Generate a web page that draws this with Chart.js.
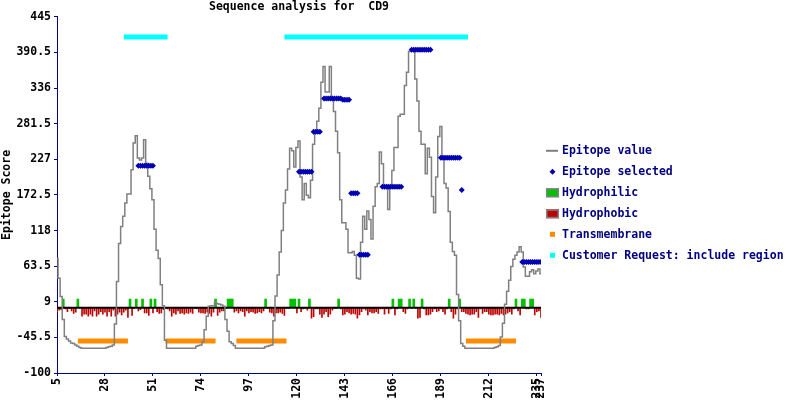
<!DOCTYPE html>
<html>
<head>
<meta charset="utf-8">
<title>Sequence analysis for CD9</title>
<style>
html,body{margin:0;padding:0;background:#ffffff;}
#wrap{width:800px;height:400px;position:relative;}
</style>
<script src="https://cdn.jsdelivr.net/npm/chart.js@4/dist/chart.umd.min.js"></script>
</head>
<body>
<div id="wrap"><canvas id="c" width="800" height="400"></canvas></div>
<script>
// ---------------- DATA ----------------
const chartTitle = 'Sequence analysis for  CD9';
const yAxisTitle = 'Epitope Score';
const firstResidue = 5;

// Epitope value per residue, residues 5..237
const epitopeValue = [
  75, 45, 17, -18, -44, -48, -51, -54, -55, -57,          // 5-14
  -59, -61, -62, -62, -62, -62, -62, -62, -62, -62,       // 15-24
  -62, -62, -62, -62, -61, -60, -59, -57, -25, 40,        // 25-34
  98, 124, 140, 160, 174, 174, 211, 252, 263, 229,        // 35-44
  226, 229, 257, 221, 201, 182, 165, 120, 88, 75,         // 45-54
  35, 3, -50, -62, -62, -62, -62, -62, -62, -62,          // 55-64
  -62, -62, -62, -62, -62, -62, -62, -59, -58, -57,       // 65-74
  -52, -34, -13, 2, 3, 3, 8, 6, 5, 4,                     // 75-84
  2, -18, -36, -52, -55, -58, -62, -62, -62, -62,         // 85-94
  -62, -62, -62, -62, -62, -62, -62, -62, -62, -62,       // 95-104
  -60, -59, -58, -57, -20, 18, 50, 85, 118, 160,          // 105-114
  180, 212, 244, 240, 215, 245, 255, 200, 165, 190,       // 115-124
  172, 168, 195, 250, 270, 285, 305, 345, 369, 330,       // 125-134
  330, 369, 318, 300, 270, 237, 165, 130, 130, 120,       // 135-144
  84, 84, 86, 80, 45, 44, 100, 140, 120, 148,             // 145-154
  135, 105, 155, 185, 190, 238, 220, 187, 187, 150,       // 155-164
  187, 210, 245, 245, 293, 296, 296, 340, 360, 392,       // 165-174
  396, 395, 350, 316, 270, 250, 250, 205, 244, 230,       // 175-184
  170, 145, 200, 262, 277, 229, 190, 183, 147, 100,       // 185-194
  86, 80, 20, -20, -55, -59, -62, -62, -62, -62,          // 195-204
  -62, -62, -62, -62, -62, -62, -62, -62, -62, -62,       // 205-214
  -61, -60, -58, -45, -24, 5, 25, 42, 63, 74,             // 215-224
  80, 85, 93, 85, 62, 48, 48, 55, 58, 52,                 // 225-234
  56, 59, 52                                              // 235-237
];

// Hydropathy per residue, residues 5..237 (positive = hydrophilic, negative = hydrophobic)
const hydropathy = [
  -7, -4, -3, 13, -2, -6, -1, -5, -9, -7,                 // 5-14
  13, -1, -13, -10, -10, -13, -10, -13, -5, -13,          // 15-24
  -10, -6, -10, -7, -13, -6, -13, -4, -13, -10,           // 25-34
  -7, -11, -7, -4, -15, 13, -12, -1, 13, -5,              // 35-44
  -3, 13, -8, -8, -12, 13, -8, 13, -6, -9,                // 45-54
  -8, -3, -1, -2, -5, -13, -8, -10, -5, -9,               // 55-64
  -8, -10, -8, -9, -7, -9, -1, -2, -7, -8,                // 65-74
  -8, -9, -7, -9, -13, -7, 13, -12, -7, -5,               // 75-84
  -5, -1, 13, 13, 13, -7, -5, -8, -5, -6,                 // 85-94
  -13, -5, -8, -6, -7, -9, -8, -6, -8, -5,                // 95-104
  13, -1, -7, -8, -13, -8, -8, -7, -9, -12,               // 105-114
  -1, -1, 13, 13, 13, -8, 13, -6, -2, -1,                 // 115-124
  -4, 13, -16, -14, -2, -2, -10, -15, -10, -6,            // 125-134
  -14, -10, -4, -1, -1, 13, -2, -11, -10, -6,             // 135-144
  -8, -10, -9, -10, -16, -11, -6, -2, -4, -11,            // 145-154
  -6, -8, -8, -6, -9, -2, -2, -10, -2, -9,                // 155-164
  -2, 13, -11, -2, 13, 13, -6, -9, -2, 13,                // 165-174
  -1, 13, -1, -16, -15, 13, -2, -11, -11, -10,            // 175-184
  -6, -2, -6, -5, -2, -6, -10, -2, 13, -6,                // 185-194
  -16, -10, -2, 13, -6, -6, -9, -10, -11, -10,            // 195-204
  -10, -6, -15, -2, -9, -6, -6, -10, -11, -11,            // 205-214
  -10, -10, -11, -9, -11, -10, -8, -6, -10, -2,           // 215-224
  13, -5, -11, 13, 13, -2, -2, 13, 13, -11,               // 225-234
  -6, -5, -15                                             // 235-237
];

// Selected epitope points (residue, score)
const selectedResidue = [
  44, 45, 46, 47, 48, 49, 50, 51,
  121, 122, 123, 124, 125, 126, 127,
  128, 129, 130, 131,
  133, 134, 135, 136, 137, 138, 139, 140, 141,
  142, 143, 144, 145,
  146, 147, 148, 149,
  150, 151, 152, 153, 154,
  161, 162, 163, 164, 165, 166, 167, 168, 169, 170,
  175, 176, 177, 178, 179, 180, 181, 182, 183, 184,
  189, 190, 191, 192, 193, 194, 195, 196, 197, 198,
  199,
  228, 229, 230, 231, 232, 233, 234, 235, 236, 237
];
const selectedScore = [
  217, 217, 217, 217, 217, 217, 217, 217,
  208, 208, 208, 208, 208, 208, 208,
  269, 269, 269, 269,
  320, 320, 320, 320, 320, 320, 320, 320, 320,
  318, 318, 318, 318,
  175, 175, 175, 175,
  81, 81, 81, 81, 81,
  185, 185, 185, 185, 185, 185, 185, 185, 185, 185,
  394.5, 394.5, 394.5, 394.5, 394.5, 394.5, 394.5, 394.5, 394.5, 394.5,
  229.5, 229.5, 229.5, 229.5, 229.5, 229.5, 229.5, 229.5, 229.5, 229.5,
  180,
  70, 70, 70, 70, 70, 70, 70, 70, 70, 70
];

// Transmembrane regions
const tmStart = [15, 57, 91, 201];
const tmEnd   = [39, 81, 115, 225];
const tmLevel = -51;

// Customer request: include regions
const reqStart = [37, 114];
const reqEnd   = [58, 202];
const reqLevel = 414;

// Axis ticks
const xTicks = [5, 28, 51, 74, 97, 120, 143, 166, 189, 212, 235, 237];
const yTicks = [-100, -45.5, 9, 63.5, 118, 172.5, 227, 281.5, 336, 390.5, 445];

const legendLabels = ['Epitope value', 'Epitope selected', 'Hydrophilic', 'Hydrophobic', 'Transmembrane', 'Customer Request: include region'];

// ---------------- STYLE ----------------
const C = {
  curve: '#808080', sel: '#0000b4', green: '#00c000', red: '#c00000',
  orange: '#ff8c00', cyan: '#00ffff', axis: '#00008b', legendText: '#000080'
};
const FONT = "'DejaVu Sans Mono', 'Liberation Mono', monospace";

// ---------------- BUILD ----------------
const residues = epitopeValue.map((_, i) => firstResidue + i);
const curvePts = residues.map((r, i) => ({x: r, y: epitopeValue[i]}));
const philPts = [], phobPts = [];
residues.forEach((r, i) => {
  const v = hydropathy[i];
  if (v > 0) philPts.push({x: r, y: v}); else phobPts.push({x: r, y: v});
});
const selPts = selectedResidue.map((r, i) => ({x: r, y: selectedScore[i]}));
function segs(starts, ends, level) {
  const out = [];
  starts.forEach((s, i) => {
    out.push({x: s, y: level}, {x: ends[i], y: level}, {x: ends[i], y: null});
  });
  return out;
}
const basePts = [{x: residues[0], y: 0}, {x: residues[residues.length - 1], y: 0}];

Chart.defaults.font.family = FONT;
Chart.defaults.font.size = 11.5;
Chart.defaults.font.weight = 'bold';
Chart.defaults.color = '#000';

const legendPlugin = {
  id: 'sideLegend',
  afterDraw(chart) {
    const ctx = chart.ctx, a = chart.chartArea;
    const x0 = a.right + 5, tx = a.right + 21;
    const y0 = a.top + 134, step = 21;
    ctx.save();
    ctx.font = 'bold 11.5px ' + FONT;
    ctx.textBaseline = 'middle';
    ctx.textAlign = 'left';
    legendLabels.forEach((lab, i) => {
      const y = y0 + i * step;
      if (i === 0) {
        ctx.strokeStyle = C.curve; ctx.lineWidth = 2;
        ctx.beginPath(); ctx.moveTo(x0, y); ctx.lineTo(x0 + 12, y); ctx.stroke();
      } else if (i === 1) {
        ctx.fillStyle = C.sel;
        ctx.beginPath(); ctx.moveTo(x0 + 6.5, y - 3); ctx.lineTo(x0 + 9.5, y); ctx.lineTo(x0 + 6.5, y + 3); ctx.lineTo(x0 + 3.5, y); ctx.closePath(); ctx.fill();
      } else if (i === 2 || i === 3) {
        ctx.fillStyle = i === 2 ? C.green : C.red;
        ctx.fillRect(x0, y - 4.5, 13, 9);
        ctx.strokeStyle = C.curve; ctx.lineWidth = 1.5;
        ctx.strokeRect(x0 + 0.75, y - 3.75, 11.5, 7.5);
      } else {
        ctx.fillStyle = i === 4 ? C.orange : C.cyan;
        ctx.fillRect(x0 + 4, y - 3, 5, 5);
      }
      ctx.fillStyle = C.legendText;
      ctx.fillText(lab, tx, y);
    });
    ctx.restore();
  }
};

new Chart(document.getElementById('c'), {
  type: 'bar',
  data: {
    datasets: [
      {type: 'line', label: legendLabels[1], data: selPts, showLine: false, pointStyle: 'rectRot', pointRadius: 3, pointBackgroundColor: C.sel, pointBorderWidth: 0, order: 0},
      {type: 'line', label: legendLabels[0], data: curvePts, borderColor: C.curve, borderWidth: 1.5, pointRadius: 0, stepped: 'middle', fill: false, order: 1},
      {type: 'line', label: legendLabels[4], data: segs(tmStart, tmEnd, tmLevel), borderColor: C.orange, borderWidth: 5, pointRadius: 0, spanGaps: false, borderCapStyle: 'butt', order: 2},
      {type: 'line', label: legendLabels[5], data: segs(reqStart, reqEnd, reqLevel), borderColor: C.cyan, borderWidth: 5, pointRadius: 0, spanGaps: false, borderCapStyle: 'butt', order: 2},
      {type: 'line', label: 'baseline', data: basePts, borderColor: '#000000', borderWidth: 2, pointRadius: 0, order: 3},
      {type: 'bar', label: legendLabels[2], data: philPts, backgroundColor: C.green, barThickness: 2, grouped: false, order: 4},
      {type: 'bar', label: legendLabels[3], data: phobPts, backgroundColor: C.red, barThickness: 1, grouped: false, order: 5}
    ]
  },
  options: {
    responsive: false,
    animation: false,
    events: [],
    layout: {padding: {left: 0, right: 259, top: 0, bottom: 0}},
    plugins: {
      legend: {display: false},
      tooltip: {enabled: false},
      title: {display: true, text: chartTitle, fullSize: false, color: '#000', padding: {top: 0, bottom: 3}, font: {size: 11.5, weight: 'bold', family: FONT}}
    },
    scales: {
      x: {
        type: 'linear', min: 5, max: 237, offset: false,
        grid: {drawOnChartArea: false, drawTicks: true, tickLength: 3, color: C.axis, offset: false},
        border: {color: C.axis, width: 1},
        ticks: {autoSkip: false, minRotation: 90, maxRotation: 90, padding: 2, color: '#000', callback: v => String(v)},
        afterBuildTicks: s => { s.ticks = xTicks.map(v => ({value: v})); },
        afterFit: s => { s.height = 27; s.paddingLeft = 0; s.paddingRight = 0; }
      },
      y: {
        type: 'linear', min: -100, max: 445,
        grid: {drawOnChartArea: false, drawTicks: true, tickLength: 3, color: C.axis},
        border: {color: C.axis, width: 1},
        ticks: {padding: 3, color: '#000', callback: v => String(v)},
        afterBuildTicks: s => { s.ticks = yTicks.map(v => ({value: v})); },
        afterFit: s => { s.width = 57; s.paddingTop = 0; s.paddingBottom = 0; },
        title: {display: true, text: yAxisTitle, color: '#000', padding: {top: 0, bottom: 0}, font: {size: 11.5, weight: 'bold', family: FONT}}
      }
    }
  },
  plugins: [legendPlugin]
});
</script>
</body>
</html>
